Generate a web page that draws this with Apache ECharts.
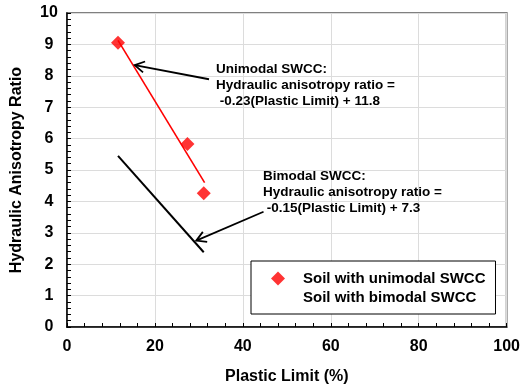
<!DOCTYPE html>
<html>
<head>
<meta charset="utf-8">
<script src="https://cdn.jsdelivr.net/npm/echarts@6/dist/echarts.min.js"></script>
<style>
  html, body { margin: 0; padding: 0; background: #fff; }
  #chart { width: 523px; height: 392px; }
</style>
</head>
<body>
<div id="chart"></div>
<script>
// Measured specimens: plastic limit (%) vs hydraulic anisotropy ratio
const uniX = [11.6, 27.4, 31.1];
const uniY = [9.05, 5.83, 4.26];

// Trend line end points for each soil group
const uniFitX = [11.6, 31.3];
const uniFitY = [9.13, 4.60];
const biFitX = [11.6, 31.1];
const biFitY = [5.45, 2.38];

// Axis ranges and tick spacing
const xTicks = [0, 100, 20];
const yTicks = [0, 10, 1];

// Legend names
const seriesNames = ['Soil with unimodal SWCC', 'Soil with bimodal SWCC'];

// Callout texts and their arrows (tail -> head, in data units)
const uniNote = ['Unimodal SWCC:', 'Hydraulic anisotropy ratio =', ' -0.23(Plastic Limit) + 11.8'];
const biNote = ['Bimodal SWCC:', 'Hydraulic anisotropy ratio =', ' -0.15(Plastic Limit) + 7.3'];
const uniArrow = [[32.3, 7.89], [15.4, 8.34]];
const biArrow = [[44.7, 3.67], [29.4, 2.75]];

const FONT = '"Liberation Sans", Arial, sans-serif';
const DIAMOND = 'path://M0,-7L7,0L0,7L-7,0Z';

const chart = echarts.init(document.getElementById('chart'), null, { renderer: 'canvas' });

const zip = (xs, ys) => xs.map((x, i) => [x, ys[i]]);

chart.setOption({
  animation: false,
  backgroundColor: '#ffffff',
  grid: {
    left: 67, top: 13, right: 15, bottom: 65,
    show: true, borderColor: '#808080', borderWidth: 2, backgroundColor: 'transparent'
  },
  xAxis: {
    type: 'value', min: xTicks[0], max: xTicks[1], interval: xTicks[2],
    name: 'Plastic Limit (%)', nameLocation: 'middle', nameGap: 42,
    nameTextStyle: { fontFamily: FONT, fontWeight: 'bold', fontSize: 16, color: '#000' },
    axisLine: { show: true, onZero: false, lineStyle: { color: '#000', width: 1.5 } },
    axisTick: { show: true, inside: true, length: 4, lineStyle: { color: '#000' } },
    minorTick: { show: true, splitNumber: 5, length: 4, lineStyle: { color: '#000' } },
    axisLabel: { fontFamily: FONT, fontWeight: 'bold', fontSize: 16, color: '#000', margin: 12 },
    splitLine: { show: true, lineStyle: { color: '#dcdcdc', width: 1 } }
  },
  yAxis: {
    type: 'value', min: yTicks[0], max: yTicks[1], interval: yTicks[2],
    name: 'Hydraulic Anisotropy Ratio', nameLocation: 'middle', nameGap: 42,
    nameTextStyle: { fontFamily: FONT, fontWeight: 'bold', fontSize: 16, color: '#000' },
    axisLine: { show: true, onZero: false, lineStyle: { color: '#000', width: 1.5 } },
    axisTick: { show: true, inside: true, length: 4, lineStyle: { color: '#000' } },
    minorTick: { show: true, splitNumber: 5, length: 4, lineStyle: { color: '#000' } },
    axisLabel: {
      fontFamily: FONT, fontWeight: 'bold', fontSize: 16, color: '#000',
      margin: 18, align: 'center'
    },
    splitLine: { show: true, lineStyle: { color: '#dcdcdc', width: 1 } }
  },
  legend: {
    left: 251, top: 261, orient: 'vertical',
    backgroundColor: '#fff', borderColor: '#000', borderWidth: 1,
    padding: [9, 10, 8, 7],
    itemWidth: 40, itemHeight: 14, itemGap: 2, symbolKeepAspect: true,
    textStyle: { fontFamily: FONT, fontWeight: 'bold', fontSize: 15, color: '#000', lineHeight: 17 },
    data: [
      { name: seriesNames[0], icon: DIAMOND },
      { name: seriesNames[1], icon: 'rect', itemStyle: { opacity: 0 } }
    ]
  },
  series: [
    {
      name: 'unimodal trend', type: 'line', data: zip(uniFitX, uniFitY),
      symbol: 'none', lineStyle: { color: '#ff0000', width: 1.6 }, z: 2
    },
    {
      name: seriesNames[1], type: 'line', data: zip(biFitX, biFitY),
      symbol: 'none', color: '#000', lineStyle: { color: '#000', width: 2 }, z: 2
    },
    {
      name: seriesNames[0], type: 'scatter', data: zip(uniX, uniY),
      symbol: 'diamond', symbolSize: 14, itemStyle: { color: '#ff0000' }, z: 3
    }
  ]
});

// Callout text blocks and open-headed arrows, placed through the grid's coordinate system
function arrowShapes(tail, head) {
  const p0 = chart.convertToPixel({ gridIndex: 0 }, tail);
  const p1 = chart.convertToPixel({ gridIndex: 0 }, head);
  const ang = Math.atan2(p0[1] - p1[1], p0[0] - p1[0]);
  const len = 11, spread = Math.PI / 6;
  const a1 = [p1[0] + len * Math.cos(ang + spread), p1[1] + len * Math.sin(ang + spread)];
  const a2 = [p1[0] + len * Math.cos(ang - spread), p1[1] + len * Math.sin(ang - spread)];
  const style = { stroke: '#000', lineWidth: 1.8, fill: null };
  return [
    { type: 'line', shape: { x1: p0[0], y1: p0[1], x2: p1[0], y2: p1[1] }, style, z: 10 },
    { type: 'polyline', shape: { points: [a1, p1, a2] }, style, z: 10 }
  ];
}

function noteText(lines, x, y) {
  return {
    type: 'text', left: x, top: y, z: 10,
    style: {
      text: lines.join('\n'), fontFamily: FONT, fontWeight: 'bold', fontSize: 13.5,
      lineHeight: 16, fill: '#000'
    }
  };
}

chart.setOption({
  graphic: [
    ...arrowShapes(uniArrow[0], uniArrow[1]),
    ...arrowShapes(biArrow[0], biArrow[1]),
    noteText(uniNote, 216, 61),
    noteText(biNote, 263, 168)
  ]
});
</script>
</body>
</html>
